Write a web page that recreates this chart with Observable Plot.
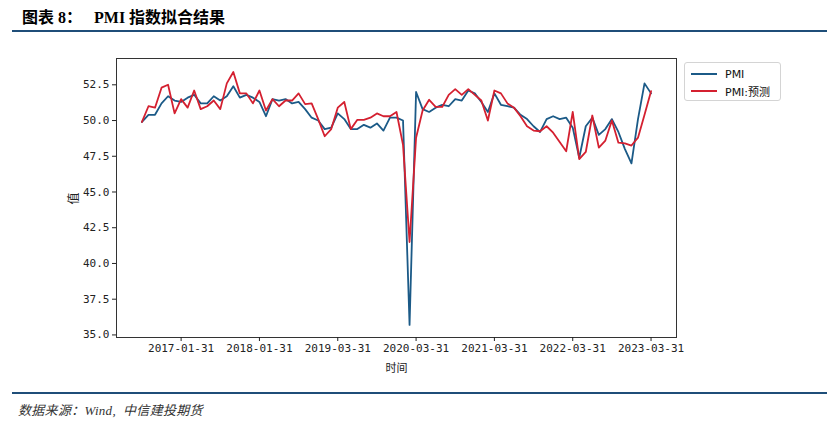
<!DOCTYPE html>
<html>
<head>
<meta charset="utf-8">
<script src="https://cdn.jsdelivr.net/npm/d3@7"></script>
<script src="https://cdn.jsdelivr.net/npm/@observablehq/plot@0.6"></script>
<style>
  body { margin:0; background:#fff; width:839px; height:424px; position:relative; overflow:hidden; }
  #title { position:absolute; left:22px; top:4px; font-size:16px; font-weight:bold; color:#000;
           font-family:"Liberation Serif","Noto Sans CJK SC",serif; white-space:pre; }
  .rule { position:absolute; left:12px; width:815px; height:2px; background:#1f4e79; }
  #chart { position:absolute; left:0; top:40px; }
  #legend { position:absolute; left:684px; top:62px; width:97px; height:39px; box-sizing:border-box;
            border:1px solid #d4d4d4; border-radius:3px; background:#fff;
            font-family:"DejaVu Sans","Noto Sans CJK SC",sans-serif; font-size:11px; color:#111; }
  .item { position:absolute; left:6px; height:14px; display:flex; align-items:center; white-space:pre; }
  .sw { width:26px; height:2px; margin-right:8px; }
  #source { position:absolute; left:18px; top:400px; font-size:13px; letter-spacing:0.3px; font-style:italic; color:#333;
            font-family:"Liberation Serif","Noto Sans CJK SC",serif; white-space:pre; }
  #ylab { position:absolute; left:66px; top:190px; font-family:'Noto Sans CJK SC',sans-serif;
          font-size:12px; color:#222; transform:rotate(-90deg); }
</style>
</head>
<body>
<div id="title">图表 8：   PMI 指数拟合结果</div>
<div class="rule" style="top:30px"></div>
<div id="chart"></div>
<div id="legend">
  <div class="item" style="top:4px"><span class="sw" style="background:#1b5a87"></span>PMI</div>
  <div class="item" style="top:21px"><span class="sw" style="background:#d42030"></span>PMI:预测</div>
</div>
<div id="ylab">值</div>
<div class="rule" style="top:392px"></div>
<div id="source">数据来源：Wind,  中信建投期货</div>
<script>
// Month-end dates of the series (May 2018 and Feb 2019 absent in the source data)
const dates = [
  "2016-07-31","2016-08-31","2016-09-30","2016-10-31","2016-11-30","2016-12-31",
  "2017-01-31","2017-02-28","2017-03-31","2017-04-30","2017-05-31","2017-06-30",
  "2017-07-31","2017-08-31","2017-09-30","2017-10-31","2017-11-30","2017-12-31",
  "2018-01-31","2018-02-28","2018-03-31","2018-04-30","2018-06-30","2018-07-31",
  "2018-08-31","2018-09-30","2018-10-31","2018-11-30","2018-12-31","2019-01-31",
  "2019-03-31","2019-04-30","2019-05-31","2019-06-30","2019-07-31","2019-08-31",
  "2019-09-30","2019-10-31","2019-11-30","2019-12-31","2020-01-31","2020-02-29",
  "2020-03-31","2020-04-30","2020-05-31","2020-06-30","2020-07-31","2020-08-31",
  "2020-09-30","2020-10-31","2020-11-30","2020-12-31","2021-01-31","2021-02-28",
  "2021-03-31","2021-04-30","2021-05-31","2021-06-30","2021-07-31","2021-08-31",
  "2021-09-30","2021-10-31","2021-11-30","2021-12-31","2022-01-31","2022-02-28",
  "2022-03-31","2022-04-30","2022-05-31","2022-06-30","2022-07-31","2022-08-31",
  "2022-09-30","2022-10-31","2022-11-30","2022-12-31","2023-01-31","2023-02-28",
  "2023-03-31"
];
const pmi = [
  49.9,50.4,50.4,51.2,51.7,51.4, 51.3,51.6,51.8,51.2,51.2,51.7,
  51.4,51.7,52.4,51.6,51.8,51.6, 51.3,50.3,51.5,51.4,51.5,51.2,
  51.3,50.8,50.2,50.0,49.4,49.5, 50.5,50.1,49.4,49.4,49.7,49.5,
  49.8,49.3,50.2,50.2,50.0,35.7, 52.0,50.8,50.6,50.9,51.1,51.0,
  51.5,51.4,52.1,51.9,51.3,50.6, 51.9,51.1,51.0,50.9,50.4,50.1,
  49.6,49.2,50.1,50.3,50.1,50.2, 49.5,47.4,49.6,50.2,49.0,49.4,
  50.1,49.2,48.0,47.0,50.1,52.6, 51.9
];
const pred = [
  49.9,51.0,50.9,52.3,52.5,50.5, 51.5,50.9,52.1,50.8,51.0,51.4,
  50.8,52.6,53.4,51.9,51.9,51.2, 52.1,50.7,51.5,51.0,51.4,51.4,
  51.9,51.15,51.2,50.1,48.9,49.4, 50.9,51.3,49.4,50.05,50.05,50.2,
  50.5,50.3,50.3,50.6,48.3,41.5, 48.8,50.7,51.45,50.95,50.95,51.8,
  52.2,51.8,52.2,51.8,51.4,50.0, 52.1,51.9,51.2,50.9,50.3,49.6,
  49.3,49.25,49.6,49.15,48.5,47.85, 50.6,47.3,47.8,50.35,48.1,48.6,
  50.0,48.45,48.4,48.25,48.8,50.4, 52.05
];
const tickLabels = ["2017-01-31","2018-01-31","2019-03-31","2020-03-31","2021-03-31","2022-03-31","2023-03-31"];
const yTicks = [35.0,37.5,40.0,42.5,45.0,47.5,50.0,52.5];
const colors = ["#1b5a87","#d42030"];

const tickIdx = tickLabels.map(t => dates.indexOf(t));
const n = dates.length - 1;
const pad = 0.05 * n;

const chart = Plot.plot({
  width: 839,
  height: 345,
  marginTop: 18,
  marginBottom: 48,
  marginLeft: 116,
  marginRight: 163,
  style: { fontFamily: "'DejaVu Sans Mono','Noto Sans CJK SC',monospace", fontSize: "11px", color: "#222", background: "transparent" },
  x: { domain: [-pad, n + pad] },
  y: { domain: [34.82, 54.34] },
  marks: [
    Plot.line(pmi, { x: (d, i) => i, y: d => d, stroke: colors[0], strokeWidth: 1.8 }),
    Plot.line(pred, { x: (d, i) => i, y: d => d, stroke: colors[1], strokeWidth: 1.8 }),
    Plot.frame({ stroke: "#333", strokeWidth: 1 }),
    Plot.axisX({ ticks: tickIdx, tickFormat: i => dates[i], tickSize: 4, tickPadding: 3,
                 label: "时间", labelAnchor: "center", labelOffset: 34, labelArrow: "none" }),
    Plot.axisY({ ticks: yTicks, tickFormat: d => d.toFixed(1), tickSize: 4, tickPadding: 3,
                 label: null }),
  ]
});
document.getElementById("chart").appendChild(chart);
</script>
</body>
</html>
